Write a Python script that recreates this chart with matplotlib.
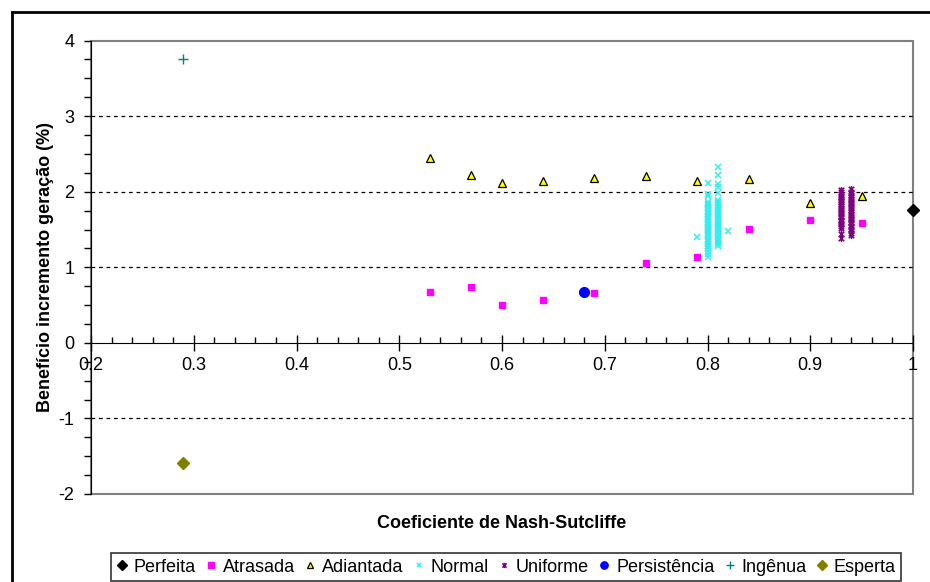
import matplotlib
matplotlib.use("Agg")
import matplotlib.pyplot as plt
from matplotlib.lines import Line2D
from matplotlib.patches import Rectangle
from matplotlib.path import Path
from matplotlib.ticker import MultipleLocator

plt.rcParams['font.family'] = ['Liberation Sans', 'DejaVu Sans']
plt.rcParams['axes.unicode_minus'] = False

# valores
perfeita_x = [1.0]
perfeita_y = [1.76]

atrasada_x = [0.53, 0.57, 0.60, 0.64, 0.69, 0.74, 0.79, 0.84, 0.90, 0.95]
atrasada_y = [0.67, 0.74, 0.50, 0.57, 0.66, 1.06, 1.14, 1.51, 1.63, 1.59]

adiantada_x = [0.53, 0.57, 0.60, 0.64, 0.69, 0.74, 0.79, 0.84, 0.90, 0.95]
adiantada_y = [2.45, 2.22, 2.12, 2.14, 2.18, 2.21, 2.14, 2.17, 1.85, 1.94]

normal_080 = [2.12, 1.97, 1.94, 1.86, 1.84, 1.82, 1.79, 1.77, 1.75, 1.73, 1.71,
              1.68, 1.66, 1.64, 1.62, 1.60, 1.58, 1.56, 1.53, 1.51, 1.49, 1.47,
              1.45, 1.43, 1.41, 1.38, 1.36, 1.34, 1.31, 1.28, 1.25, 1.21, 1.17, 1.13]
normal_081 = [2.33, 2.22, 2.10, 2.06, 1.98, 1.89, 1.87, 1.85, 1.82, 1.80, 1.78,
              1.76, 1.74, 1.72, 1.70, 1.68, 1.66, 1.64, 1.62, 1.60, 1.57, 1.55,
              1.53, 1.51, 1.49, 1.47, 1.45, 1.42, 1.40, 1.38, 1.36, 1.33, 1.31, 1.28]
normal_extra_x = [0.79, 0.82]
normal_extra_y = [1.40, 1.48]

uniforme_093 = [2.02, 1.99, 1.97, 1.95, 1.93, 1.90, 1.88, 1.86, 1.84, 1.81, 1.79,
                1.77, 1.75, 1.72, 1.70, 1.68, 1.66, 1.63, 1.61, 1.59, 1.57, 1.54,
                1.52, 1.44, 1.39]
uniforme_094 = [2.03, 2.00, 1.98, 1.96, 1.93, 1.91, 1.89, 1.87, 1.85, 1.82, 1.80,
                1.78, 1.76, 1.73, 1.71, 1.69, 1.67, 1.64, 1.62, 1.60, 1.58, 1.55,
                1.53, 1.51, 1.49, 1.46, 1.43]

persistencia_x = [0.68]
persistencia_y = [0.67]

ingenua_x = [0.29]
ingenua_y = [3.76]

esperta_x = [0.29]
esperta_y = [-1.59]

normal_x = [0.80] * len(normal_080) + [0.81] * len(normal_081) + normal_extra_x
normal_y = normal_080 + normal_081 + normal_extra_y
uniforme_x = [0.93] * len(uniforme_093) + [0.94] * len(uniforme_094)
uniforme_y = uniforme_093 + uniforme_094

# marcador estrela do excel: x com barra vertical
star = Path([(0, -1), (0, 1), (-0.8, -0.8), (0.8, 0.8), (-0.8, 0.8), (0.8, -0.8)],
            [Path.MOVETO, Path.LINETO, Path.MOVETO, Path.LINETO, Path.MOVETO, Path.LINETO])

fig = plt.figure(figsize=(9.3, 5.82), dpi=100)
ax = fig.add_axes([91/930, 1 - 494/582, (913 - 91)/930, (494 - 40.6)/582])

ax.plot(perfeita_x, perfeita_y, ls='none', marker='D', ms=6.5, color='black',
        label='Perfeita', clip_on=False, zorder=5)
ax.plot(atrasada_x, atrasada_y, ls='none', marker='s', ms=5, color='#ff00ff',
        label='Atrasada', zorder=4)
ax.plot(adiantada_x, adiantada_y, ls='none', marker='^', ms=6, mfc='#ffff00',
        mec='black', mew=0.9, label='Adiantada', zorder=4)
ax.plot(normal_x, normal_y, ls='none', marker='x', ms=4.5, mew=1.1, color='#33eeee',
        label='Normal', zorder=3)
ax.plot(uniforme_x, uniforme_y, ls='none', marker=star, ms=5, mew=1.1, color='#800080',
        label='Uniforme', zorder=3)
ax.plot(persistencia_x, persistencia_y, ls='none', marker='o', ms=7, color='#0000ff',
        label='Persistência', zorder=4)
ax.plot(ingenua_x, ingenua_y, ls='none', marker='+', ms=7, mew=1, color='#008080',
        label='Ingênua', zorder=4)
ax.plot(esperta_x, esperta_y, ls='none', marker='D', ms=6.5, color='#808000',
        label='Esperta', zorder=4)

ax.set_xlim(0.2, 1.0)
ax.set_ylim(-2, 4)

ax.xaxis.set_major_locator(MultipleLocator(0.1))
ax.xaxis.set_minor_locator(MultipleLocator(0.02))
ax.yaxis.set_major_locator(MultipleLocator(1))
ax.yaxis.set_minor_locator(MultipleLocator(0.25))
ax.set_xticks(ax.get_xticks())
ax.set_xticklabels(['1' if abs(v - 1) < 1e-9 else f"{v:.1f}" for v in ax.get_xticks()])
ax.set_xlim(0.2, 1.0)

for v in [1, 2, 3, -1]:
    ax.axhline(v, color='black', lw=0.9, ls=(0, (3, 3)), zorder=1)

ax.spines['bottom'].set_position(('data', 0))
ax.spines['bottom'].set_color('black')
ax.spines['left'].set_color('black')
ax.spines['top'].set_visible(False)
ax.spines['right'].set_visible(False)
ax.add_patch(Rectangle((0, 0), 1, 1, transform=ax.transAxes, fill=False,
                       edgecolor='#808080', lw=1.5, zorder=0.5, clip_on=False))

ax.tick_params(axis='x', which='major', direction='inout', length=12, width=1,
               labelsize=13, pad=4)
ax.tick_params(axis='x', which='minor', direction='in', length=4, width=1)
ax.tick_params(axis='y', which='major', direction='out', length=5, width=1,
               labelsize=13, pad=7)
ax.tick_params(axis='y', which='minor', direction='out', length=5, width=1)

ax.set_ylabel('Benefício incremento geração (%)', fontsize=13, fontweight='bold',
              labelpad=3)
fig.text(502/930, 1 - 524/582, 'Coeficiente de Nash-Sutcliffe', fontsize=13,
         fontweight='bold', ha='center', va='center')

leg = fig.legend(loc='center', bbox_to_anchor=(506/930, 1 - 567/582), ncol=8,
                 fontsize=13, frameon=True, fancybox=False, edgecolor='black',
                 handlelength=0.6, handletextpad=0.35, columnspacing=0.55,
                 borderpad=0.3, markerscale=0.75)
leg.get_frame().set_linewidth(1.2)

# moldura da figura
fig.add_artist(Line2D([12/930, 12/930], [0, 1 - 12/582], color='black', lw=2))
fig.add_artist(Line2D([12/930, 1], [1 - 12/582, 1 - 12/582], color='black', lw=2))

fig.savefig('out.png', dpi=100)
